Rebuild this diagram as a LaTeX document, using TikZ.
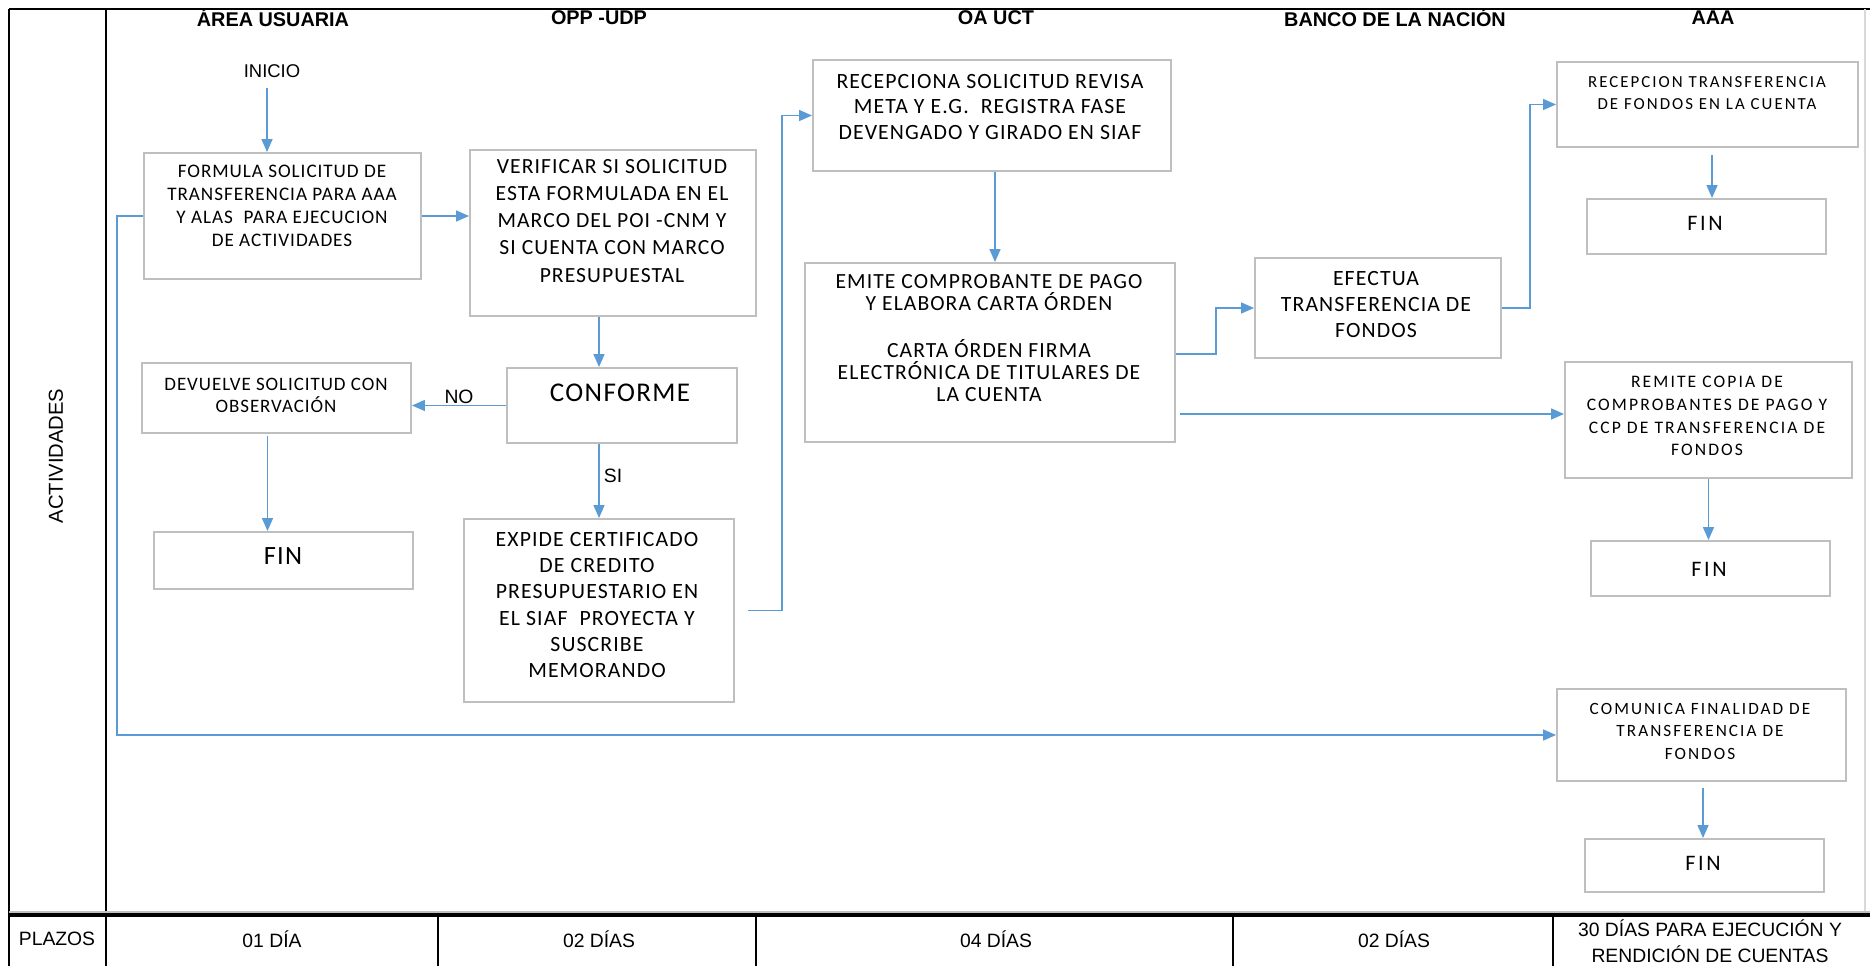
\documentclass[tikz,border=0pt]{standalone}
\usepackage{fontspec}
\setmainfont{Carlito}
\newfontfamily\calf[LetterSpace=5]{Carlito}
\newfontfamily\cala[LetterSpace=12]{Carlito}
\newfontfamily\ari{Liberation Sans}
\usetikzlibrary{arrows.meta,fit}
\definecolor{boxgray}{HTML}{BFBFBF}
\definecolor{arrblue}{HTML}{5B9BD5}
\begin{document}
\begin{tikzpicture}[x=0.02cm,y=-0.02cm,
  box/.style={draw=boxgray,line width=1.1pt,inner sep=0pt},
  txt/.style={align=center,inner sep=0pt},
  flow/.style={draw=arrblue,line width=0.9pt,-{Triangle[length=0.26cm,width=0.22cm,fill=arrblue]}},
  hdr/.style={font=\ari\bfseries\fontsize{11.3}{13}\selectfont,inner sep=0pt},
  plz/.style={font=\ari\fontsize{11}{14.8}\selectfont,align=center,inner sep=0pt},
  lbl/.style={font=\ari\fontsize{11}{13}\selectfont,inner sep=0pt},
  frame/.style={draw=black,line width=1.1pt}
]
\useasboundingbox (0,0) rectangle (1870,966);

% ---- frame ----
\draw[frame] (9,9) -- (9,966);
\draw[frame,line width=1.6pt] (9,9) -- (1870,9);
\draw[frame,line width=1.6pt] (106,9) -- (106,966);
\draw[black!15,line width=0.6pt] (1865,9) -- (1865,913);
\draw[black!25,line width=0.6pt] (9,912) -- (1870,912);
\draw[frame,line width=2.2pt] (9,915) -- (1870,915);
\draw[frame] (438,915) -- (438,966);
\draw[frame] (756,915) -- (756,966);
\draw[frame] (1233,915) -- (1233,966);
\draw[frame] (1553,915) -- (1553,966);

% ---- headers ----
\node[hdr] (h1) at (273,18) {ÁREA USUARIA};
\node[hdr] (h2) at (599,18) {OPP -UDP};
\node[hdr] (h3) at (996,18) {OA UCT};
\node[hdr] (h4) at (1395,18) {BANCO DE LA NACIÓN};
\node[hdr] (h5) at (1713,18) {AAA};

\node[lbl,rotate=90,font=\ari\fontsize{11.5}{13}\selectfont] (act) at (56,456) {ACTIVIDADES};

% ---- plazos ----
\node[plz] (p0) at (57,939) {PLAZOS};
\node[plz] (p1) at (272,939) {01 DÍA};
\node[plz] (p2) at (599,939) {02 DÍAS};
\node[plz] (p3) at (996,939) {04 DÍAS};
\node[plz] (p4) at (1394,939) {02 DÍAS};
\node[plz] (p5) at (1710,941) {30 DÍAS PARA EJECUCIÓN Y\\RENDICIÓN DE CUENTAS};

% ---- boxes ----
\node[lbl,font=\ari\fontsize{10.5}{13}\selectfont] (inicio) at (272,71) {INICIO};

\node[box,fit={(144,153) (421,279)}] (b1) {};
\node[txt,font=\calf\fontsize{10.9}{13}\selectfont] (b1t) at (282,206) {FORMULA SOLICITUD DE\\TRANSFERENCIA PARA AAA\\Y ALAS~ PARA EJECUCION\\DE ACTIVIDADES};

\node[box,fit={(470,150) (756,316)}] (b2) {};
\node[txt,font=\calf\fontsize{12.3}{15.4}\selectfont] (b2t) at (612,221) {VERIFICAR SI SOLICITUD\\ESTA FORMULADA EN EL\\MARCO DEL POI -CNM Y\\SI CUENTA CON MARCO\\PRESUPUESTAL};

\node[box,fit={(142,363) (411,433)}] (dev) {};
\node[txt,font=\calf\fontsize{10.8}{12.5}\selectfont] (devt) at (276,395) {DEVUELVE SOLICITUD CON\\OBSERVACIÓN};

\node[box,fit={(507,368) (737,443)}] (conf) {};
\node[txt,font=\calf\fontsize{15.4}{18}\selectfont] (conft) at (620,393) {CONFORME};

\node[box,fit={(154,532) (413,589)}] (finL) {};
\node[txt,font=\calf\fontsize{15}{18}\selectfont] (finLt) at (283,556) {FIN};

\node[box,fit={(464,519) (734,702)}] (exp) {};
\node[txt,font=\calf\fontsize{12.4}{14.9}\selectfont] (expt) at (597,605) {EXPIDE CERTIFICADO\\DE CREDITO\\PRESUPUESTARIO EN\\EL SIAF~ PROYECTA Y\\SUSCRIBE\\MEMORANDO};

\node[box,fit={(813,60) (1171,171)}] (rec) {};
\node[txt,font=\calf\fontsize{12.4}{14.5}\selectfont] (rect) at (990,107) {RECEPCIONA SOLICITUD REVISA\\META Y E.G.~ REGISTRA FASE\\DEVENGADO Y GIRADO EN SIAF};

\node[box,fit={(805,263) (1175,442)}] (emi) {};
\node[txt,font=\calf\fontsize{12.3}{12.6}\selectfont] (emit) at (989,338) {EMITE COMPROBANTE DE PAGO\\Y ELABORA CARTA ÓRDEN\\[14pt]CARTA ÓRDEN FIRMA\\ELECTRÓNICA DE TITULARES DE\\LA CUENTA};

\node[box,fit={(1255,258) (1501,358)}] (efe) {};
\node[txt,font=\calf\fontsize{12.4}{14.8}\selectfont] (efet) at (1376,305) {EFECTUA\\TRANSFERENCIA DE\\FONDOS};

\node[box,fit={(1557,62) (1858,147)}] (aaa1) {};
\node[txt,font=\cala\fontsize{9.6}{12.8}\selectfont] (aaa1t) at (1707,93) {RECEPCION TRANSFERENCIA\\DE FONDOS EN LA CUENTA};

\node[box,fit={(1587,199) (1826,254)}] (f1) {};
\node[txt,font=\cala\fontsize{12.6}{15}\selectfont] (f1t) at (1705,223) {FIN};

\node[box,fit={(1565,362) (1852,478)}] (rem) {};
\node[txt,font=\cala\fontsize{10}{13}\selectfont] (remt) at (1707,416) {REMITE COPIA DE\\COMPROBANTES DE PAGO Y\\CCP DE TRANSFERENCIA DE\\FONDOS};

\node[box,fit={(1591,541) (1830,596)}] (f2) {};
\node[txt,font=\cala\fontsize{12.6}{15}\selectfont] (f2t) at (1709,569) {FIN};

\node[box,fit={(1557,689) (1846,781)}] (com) {};
\node[txt,font=\cala\fontsize{9.8}{12.8}\selectfont] (comt) at (1700,731) {COMUNICA FINALIDAD DE\\TRANSFERENCIA DE\\FONDOS};

\node[box,fit={(1585,839) (1824,892)}] (f3) {};
\node[txt,font=\cala\fontsize{12.6}{15}\selectfont] (f3t) at (1703,863) {FIN};

% ---- labels ----
\node[lbl] (no) at (459,397) {NO};
\node[lbl] (si) at (613,476) {SI};

% ---- connectors ----
\coordinate (c0) at ([xshift=-0.1cm,yshift=-0.2cm]inicio.south);
\draw[flow] (c0) -- (c0 |- b1.north);
\draw[flow] (b1.east) -- (b1.east -| b2.west);
\draw[flow] (b1.west) -- ++(-26,0) |- (com.west);
\coordinate (c1) at (b2.south -| exp.north);
\draw[flow] (c1) -- (c1 |- conf.north);
\draw[flow] (conf.west) -- (conf.west -| dev.east);
\coordinate (c2) at ([xshift=-0.18cm,yshift=-0.04cm]dev.south);
\draw[flow] (c2) -- (c2 |- finL.north);
\draw[flow] (conf.south -| exp.north) -- (exp.north);
\draw[flow] ([xshift=0.26cm]exp.east) -- ++(34,0) |- (rec.west);
\coordinate (c3) at ([xshift=0.06cm]rec.south);
\draw[flow] (c3) -- (c3 |- emi.north);
\draw[flow] ([yshift=-0.03cm]emi.east) -- ++(40,0) |- (efe.west);
\draw[flow] (efe.east) -- ++(28,0) |- (aaa1.west);
\coordinate (c4) at ([xshift=0.08cm,yshift=-1.23cm]emi.east);
\draw[flow] (c4) -- (c4 -| rem.west);
\coordinate (c5) at ([xshift=0.09cm,yshift=-0.14cm]aaa1.south);
\draw[flow] (c5) -- (c5 |- f1.north);
\coordinate (c7) at (rem.south);
\draw[flow] (c7) -- (c7 |- f2.north);
\coordinate (c6) at ([xshift=0.03cm,yshift=-0.12cm]com.south);
\draw[flow] (c6) -- (c6 |- f3.north);
\end{tikzpicture}
\end{document}
